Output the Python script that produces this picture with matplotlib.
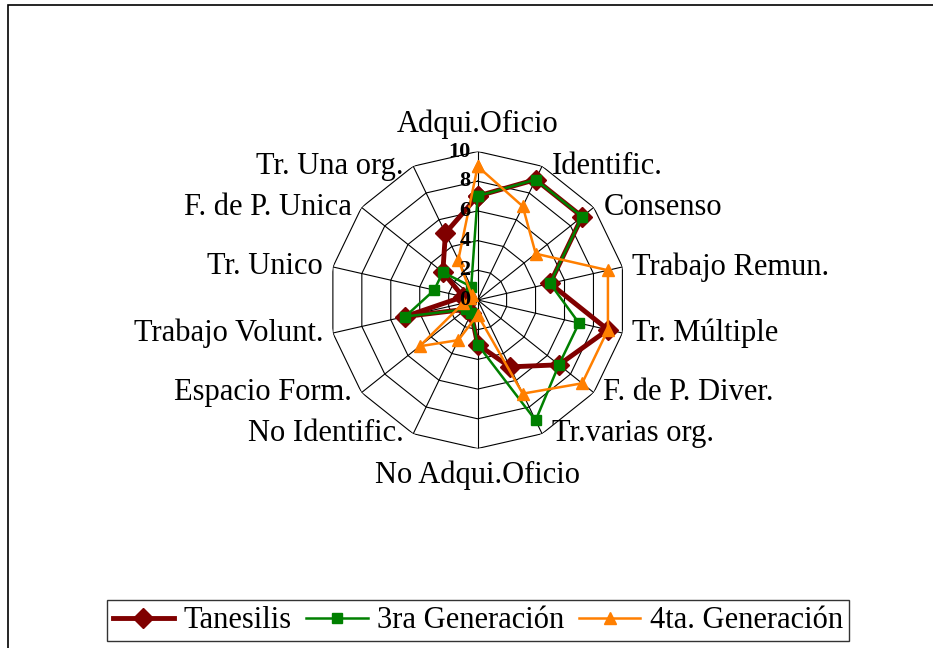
import numpy as np
import matplotlib
matplotlib.use('Agg')
import matplotlib.pyplot as plt
from matplotlib.patches import Rectangle

plt.rcParams['font.family'] = ['Liberation Serif', 'DejaVu Serif']

categories = ['Adqui.Oficio', 'Identific.', 'Consenso', 'Trabajo Remun.', 'Tr. Múltiple',
              'F. de P. Diver.', 'Tr.varias org.', 'No Adqui.Oficio', 'No Identific.',
              'Espacio Form.', 'Trabajo Volunt.', 'Tr. Unico', 'F. de P. Unica', 'Tr. Una org.']
tanesilis = [7, 9, 9, 5, 9, 7, 5, 3, 1, 1, 5, 1, 3, 5]
gen3 = [7, 9, 9, 5, 7, 7, 9, 3, 1, 1, 5, 3, 3, 1]
gen4 = [9, 7, 5, 9, 9, 9, 7, 1, 3, 5, 1, 0.5, 0.5, 3]
ticks = [0, 2, 4, 6, 8, 10]

n = len(categories)
ang = np.arange(n) * 2 * np.pi / n
angc = np.append(ang, ang[0])

fig = plt.figure(figsize=(9.33, 6.48), dpi=100)
ax = fig.add_axes([0.3528, 0.3079, 0.3183, 0.4583], projection='polar')
ax.set_theta_offset(np.pi / 2)
ax.set_theta_direction(-1)
ax.set_ylim(0, 10)
ax.grid(False)
ax.spines['polar'].set_visible(False)
ax.set_xticks([])
ax.set_yticks([])
ax.patch.set_visible(False)

# polygon grid
for lv in ticks[1:]:
    ax.plot(angc, [lv] * (n + 1), color='black', lw=0.8, zorder=1)
for a in ang:
    ax.plot([a, a], [0, 10], color='black', lw=0.8, zorder=1)

def close(v):
    return list(v) + [v[0]]

l1, = ax.plot(angc, close(tanesilis), color='#800000', lw=3.5, marker='D', ms=10,
              label='Tanesilis', zorder=3, clip_on=False)
l2, = ax.plot(angc, close(gen3), color='#008000', lw=1.8, marker='s', ms=7,
              label='3ra Generación', zorder=4, clip_on=False)
l3, = ax.plot(angc, close(gen4), color='#FF7F00', lw=1.8, marker='^', ms=9,
              label='4ta. Generación', zorder=5, clip_on=False)

# tick labels along the top spoke
for t in ticks:
    ax.annotate(str(t), (0, t), xytext=(-5, 0), textcoords='offset points',
                ha='right', va='center', fontsize=16, fontweight='bold', zorder=6)

# category labels
for a, c in zip(ang, categories):
    d = np.degrees(a)
    if abs(d) < 1:
        ax.annotate(c, (a, 10), xytext=(0, 9), textcoords='offset points',
                    ha='center', va='bottom', fontsize=22)
    elif abs(d - 180) < 1:
        ax.annotate(c, (a, 10), xytext=(0, -9), textcoords='offset points',
                    ha='center', va='top', fontsize=22)
    elif d < 180:
        ax.annotate(c, (a, 10), xytext=(7, 0), textcoords='offset points',
                    ha='left', va='center', fontsize=22)
    else:
        ax.annotate(c, (a, 10), xytext=(-7, 0), textcoords='offset points',
                    ha='right', va='center', fontsize=22)

leg = fig.legend(handles=[l1, l2, l3], loc='center', bbox_to_anchor=(0.512, 0.042),
                 ncol=3, fontsize=22, frameon=True, fancybox=False, edgecolor='black',
                 handlelength=2.0, handletextpad=0.3, columnspacing=0.5, borderpad=0.2)
leg.get_frame().set_linewidth(1.0)

fig.patches.append(Rectangle((0.0086, -0.1), 1.2, 1.0923, fill=False, lw=1.2,
                             edgecolor='black', transform=fig.transFigure))

plt.savefig('out.png', dpi=100)
